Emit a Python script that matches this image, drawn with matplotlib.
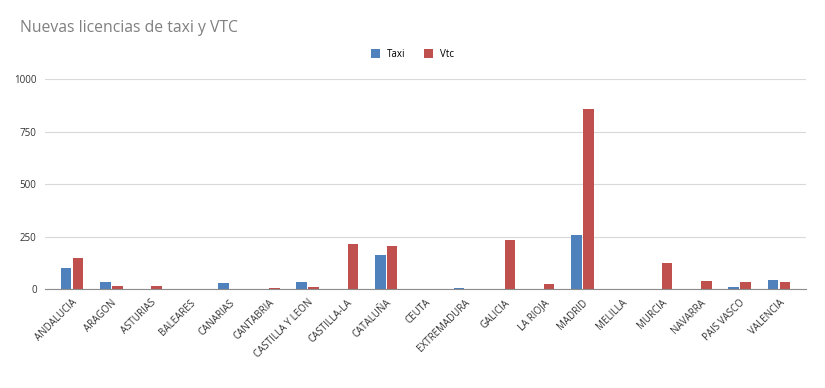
import matplotlib
matplotlib.use("Agg")
import matplotlib.pyplot as plt
import numpy as np

# data
CATEGORIES = [
    "ANDALUCIA", "ARAGON", "ASTURIAS", "BALEARES", "CANARIAS", "CANTABRIA",
    "CASTILLA Y LEON", "CASTILLA-LA", "CATALUÑA", "CEUTA", "EXTREMADURA",
    "GALICIA", "LA RIOJA", "MADRID", "MELILLA", "MURCIA", "NAVARRA",
    "PAIS VASCO", "VALENCIA",
]
TAXI = [98, 32, 0, 1, 27, 0, 32, 0, 163, 0, 3, 0, 0, 256, 0, 0, 0, 10, 43]
VTC = [146, 14, 13, 2, 0, 3, 9, 217, 206, 0, 0, 235, 22, 860, 0, 125, 40, 32, 32]
Y_TICKS = [0, 250, 500, 750, 1000]

COLOR_TAXI = "#4f81bd"
COLOR_VTC = "#c0504d"

plt.rcParams["font.family"] = ["Open Sans", "DejaVu Sans"]

fig = plt.figure(figsize=(8.25, 3.88), dpi=100)
ax = fig.add_axes([0.0545, 0.255, 0.9225, 0.541])

x = np.arange(len(CATEGORIES))
bar_w = 0.27
ax.bar(x - 0.15, TAXI, width=bar_w, color=COLOR_TAXI, label="Taxi")
ax.bar(x + 0.15, VTC, width=bar_w, color=COLOR_VTC, label="Vtc")

ax.set_xlim(-0.69, len(CATEGORIES) - 1 + 0.69)
ax.set_ylim(0, 1000)
ax.set_yticks(Y_TICKS)
ax.set_yticklabels([str(v) for v in Y_TICKS], fontsize=7, color="#333333")
ax.grid(axis="y", color="#d9d9d9", linewidth=0.8)
ax.set_axisbelow(True)
for s in ["top", "right", "left"]:
    ax.spines[s].set_visible(False)
ax.spines["bottom"].set_color("#8c8c8c")
ax.tick_params(axis="both", length=0, pad=6)

ax.set_xticks(x)
ax.set_xticklabels(CATEGORIES, fontsize=7, rotation=45, ha="right",
                   rotation_mode="anchor", color="#333333")

fig.text(0.024, 0.927, "Nuevas licencias de taxi y VTC", fontsize=11.3,
         color="#808080", va="center")
fig.legend(loc="center", bbox_to_anchor=(0.5, 0.86), ncol=2, frameon=False,
           fontsize=7, handlelength=0.9, handleheight=0.9, columnspacing=2.0,
           handletextpad=0.7)

fig.savefig("out.png", dpi=100)
